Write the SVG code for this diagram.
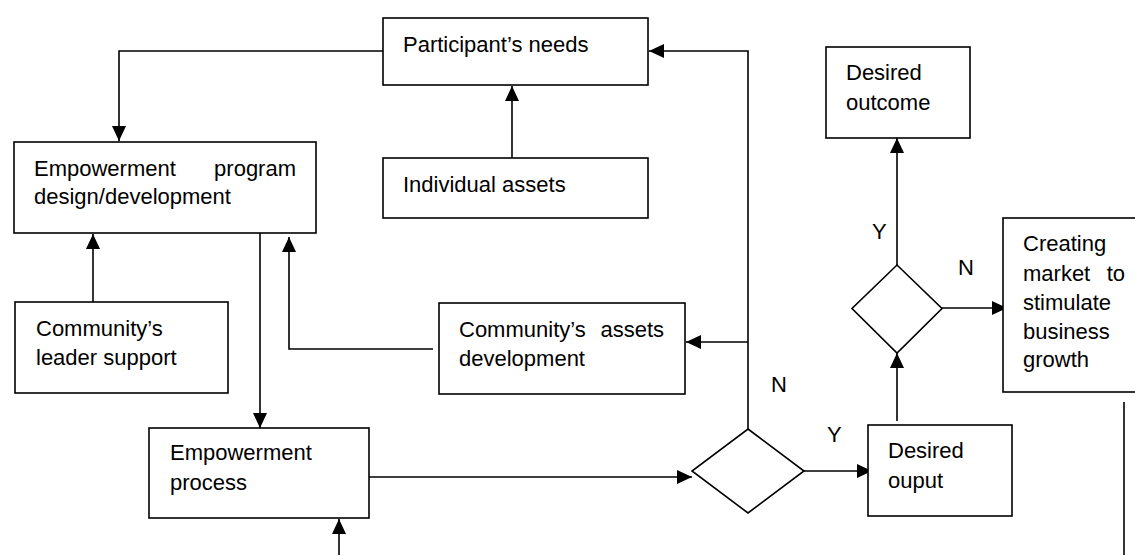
<svg xmlns="http://www.w3.org/2000/svg" width="1135" height="555" viewBox="0 0 1135 555">
<style>
.box{fill:#fff;stroke:#000;stroke-width:1.6}
.ln{fill:none;stroke:#000;stroke-width:1.6}
text{font-family:"Liberation Sans",Arial,sans-serif;font-size:22px;fill:#000}
.e{text-anchor:end}
</style>
<defs>
<marker id="ah" markerUnits="userSpaceOnUse" markerWidth="16" markerHeight="14" viewBox="0 0 16 14" refX="15" refY="7" orient="auto">
<path d="M0,0 L15,7 L0,14 z" fill="#000"/>
</marker>
</defs>
<rect width="1135" height="555" fill="#fff"/>
<g id="connectors">
<path class="ln" d="M383,51 H119 V141" marker-end="url(#ah)"/>
<path class="ln" d="M512,158 V86" marker-end="url(#ah)"/>
<path class="ln" d="M748,429 V51 H649" marker-end="url(#ah)"/>
<path class="ln" d="M748,342 H686" marker-end="url(#ah)"/>
<path class="ln" d="M433,349 H289 V237" marker-end="url(#ah)"/>
<path class="ln" d="M93,302 V234" marker-end="url(#ah)"/>
<path class="ln" d="M260,233 V428" marker-end="url(#ah)"/>
<path class="ln" d="M339,555 V519" marker-end="url(#ah)"/>
<path class="ln" d="M369,477 H692" marker-end="url(#ah)"/>
<path class="ln" d="M804,471 H872" marker-end="url(#ah)"/>
<path class="ln" d="M897,421 V353" marker-end="url(#ah)"/>
<path class="ln" d="M942,308 H1007" marker-end="url(#ah)"/>
<path class="ln" d="M897,265 V138" marker-end="url(#ah)"/>
<path class="ln" d="M1124,402 V555"/>
</g>
<g id="participants-needs">
<rect class="box" x="383" y="18" width="265" height="67"/>
<text x="403" y="52">Participant’s needs</text>
</g>
<g id="individual-assets">
<rect class="box" x="383" y="158" width="265" height="60"/>
<text x="403" y="192">Individual assets</text>
</g>
<g id="program-design">
<rect class="box" x="14" y="142" width="302" height="91"/>
<text x="34" y="176">Empowerment</text>
<text class="e" x="296" y="176">program</text>
<text x="34" y="204">design/development</text>
</g>
<g id="leader-support">
<rect class="box" x="15" y="302" width="213" height="91"/>
<text x="36" y="336">Community’s</text>
<text x="36" y="365">leader support</text>
</g>
<g id="assets-development">
<rect class="box" x="439" y="303" width="246" height="91"/>
<text x="459" y="337">Community’s</text>
<text class="e" x="664" y="337">assets</text>
<text x="459" y="366">development</text>
</g>
<g id="empowerment-process">
<rect class="box" x="149" y="428" width="220" height="90"/>
<text x="170" y="460">Empowerment</text>
<text x="170" y="490">process</text>
</g>
<g id="decision-1">
<polygon class="box" points="748,429 804,471 748,513 692,471"/>
<text x="771" y="392">N</text>
<text x="827" y="442">Y</text>
</g>
<g id="desired-output">
<rect class="box" x="868" y="425" width="144" height="91"/>
<text x="888" y="458">Desired</text>
<text x="888" y="488">ouput</text>
</g>
<g id="decision-2">
<polygon class="box" points="897,265 942,308.5 897,353 852,308.5"/>
<text x="872" y="239">Y</text>
<text x="958" y="275">N</text>
</g>
<g id="desired-outcome">
<rect class="box" x="826" y="47" width="144" height="91"/>
<text x="846" y="80">Desired</text>
<text x="846" y="110">outcome</text>
</g>
<g id="creating-market">
<rect class="box" x="1003" y="218" width="150" height="174"/>
<text x="1023" y="251">Creating</text>
<text x="1023" y="281">market</text>
<text class="e" x="1125" y="281">to</text>
<text x="1023" y="310">stimulate</text>
<text x="1023" y="339">business</text>
<text x="1023" y="367">growth</text>
</g>
</svg>
